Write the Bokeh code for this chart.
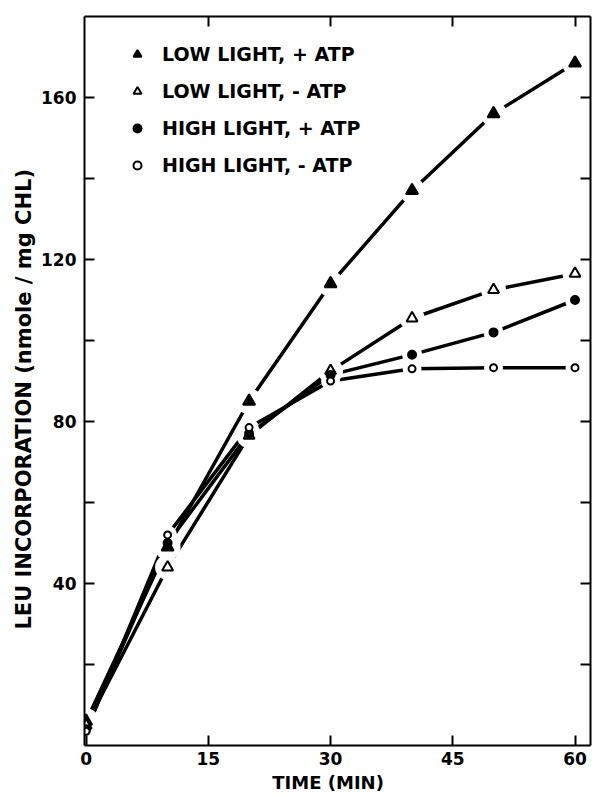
from bokeh.plotting import figure
from bokeh.models import Range1d, LinearAxis, FixedTicker, Legend, LegendItem, Title
from bokeh.embed import file_html
from bokeh.resources import INLINE

# ---- data ----
time_min = [0, 10, 20, 30, 40, 50, 60]
low_light_plus_atp = [6, 49, 85, 114, 137, 156, 168.5]
low_light_minus_atp = [5, 44, 76.5, 92.5, 105.5, 112.5, 116.5]
high_light_plus_atp = [4, 50, 77, 91.5, 96.5, 102, 110]
high_light_minus_atp = [3.5, 52, 78.5, 90, 93, 93.3, 93.3]
series_labels = ["LOW LIGHT, + ATP", "LOW LIGHT, - ATP",
                 "HIGH LIGHT, + ATP", "HIGH LIGHT, - ATP"]
x_ticks = [0, 15, 30, 45, 60]
y_major_ticks = [40, 80, 120, 160]
y_minor_ticks = [20, 60, 100, 140]
x_label = "TIME    (MIN)"
y_label = "LEU   INCORPORATION   (nmole / mg  CHL)"

FONT = "DejaVu Sans"

p = figure(width=592, height=796, output_backend="svg", toolbar_location=None,
           x_range=Range1d(-0.2, 61.9), y_range=Range1d(0, 180),
           min_border_left=84, min_border_right=2, min_border_top=16,
           min_border_bottom=51)
p.outline_line_color = None
p.xgrid.visible = False
p.ygrid.visible = False
p.background_fill_color = "white"
p.border_fill_color = "white"

def style_axis(ax, labels=True):
    ax.axis_line_width = 2
    ax.axis_line_color = "black"
    ax.major_tick_line_width = 2
    ax.minor_tick_line_width = 2
    ax.major_tick_in = 10
    ax.major_tick_out = 0
    ax.minor_tick_in = 10
    ax.minor_tick_out = 0
    ax.major_label_text_font = FONT
    ax.major_label_text_font_style = "bold"
    ax.major_label_text_font_size = "17px" if labels else "0px"
    ax.major_label_text_color = "black"
    ax.axis_label_text_font = FONT
    ax.axis_label_text_font_style = "bold"
    ax.axis_label_text_color = "black"

xa = p.xaxis[0]
xa.ticker = FixedTicker(ticks=x_ticks)
xa.axis_label = x_label
style_axis(xa)
xa.axis_label_text_font_size = "18px"
xa.major_label_standoff = 6
xa.axis_label_standoff = 4

ya = p.yaxis[0]
ya.ticker = FixedTicker(ticks=y_major_ticks, minor_ticks=y_minor_ticks)
style_axis(ya)
ya.major_label_standoff = 8

ytitle = Title(text=y_label, align="center", text_font=FONT,
               text_font_style="bold", text_font_size="21px",
               text_color="black", standoff=6, offset=30)
p.add_layout(ytitle, "left")

top = LinearAxis(ticker=FixedTicker(ticks=x_ticks[1:]))
style_axis(top, labels=False)
p.add_layout(top, "above")

right = LinearAxis(ticker=FixedTicker(ticks=y_minor_ticks + y_major_ticks))
style_axis(right, labels=False)
p.add_layout(right, "right")

series = [
    (low_light_plus_atp, "triangle", "black", 12, 26),
    (low_light_minus_atp, "triangle", "white", 11, 25),
    (high_light_plus_atp, "circle", "black", 8, 20),
    (high_light_minus_atp, "circle", "white", 7, 19),
]

for ys, *_ in series:
    p.line(time_min, ys, line_color="black", line_width=3.5)

for ys, marker, fill, size, halo in series:
    p.scatter(time_min, ys, marker="circle", size=halo,
              fill_color="white", line_color=None)

items = []
for (ys, marker, fill, size, halo), lab in zip(series, series_labels):
    r = p.scatter(time_min, ys, marker=marker, size=size,
                  fill_color=fill, line_color="black", line_width=2)
    items.append(LegendItem(label=lab, renderers=[r]))

legend = Legend(items=items, location=(43, 569), orientation="vertical",
                border_line_alpha=0, background_fill_alpha=0,
                padding=0, margin=0, spacing=15,
                glyph_width=20, glyph_height=20, label_height=20,
                label_standoff=15,
                label_text_font=FONT, label_text_font_style="bold",
                label_text_font_size="19px", label_text_color="black")
p.add_layout(legend, "center")

open("out.html", "w").write(file_html(p, INLINE))
